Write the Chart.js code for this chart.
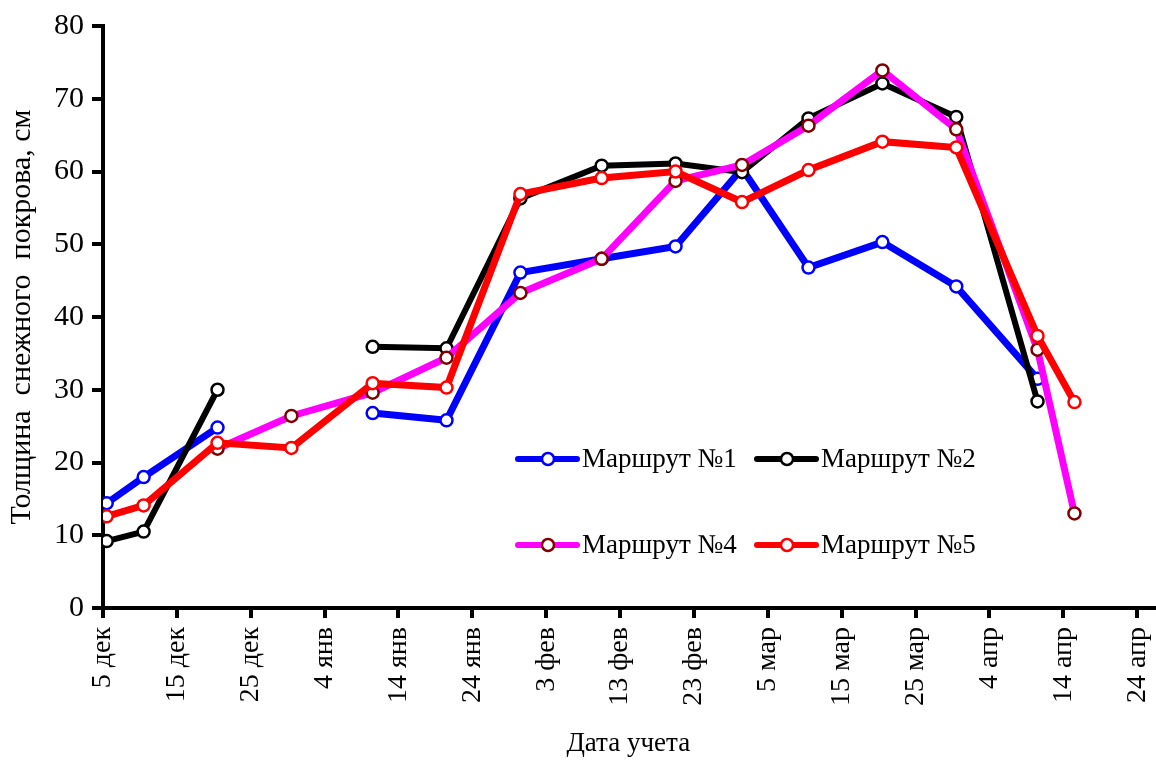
<!DOCTYPE html>
<html>
<head>
<meta charset="utf-8">
<script src="https://cdn.jsdelivr.net/npm/chart.js@4.4.1/dist/chart.umd.min.js"></script>
<style>
  html, body { margin: 0; padding: 0; background: #fff; overflow: hidden; }
  /* a few px wider than the window: Chart.js keeps ~8px spare on the right */
  #wrap { width: 1162px; height: 762px; position: relative; }
  canvas { display: block; }
</style>
</head>
<body>
<div id="wrap"><canvas id="snowChart"></canvas></div>
<script>
// days counted from 5 Dec
const days = [0.5, 5.5, 15.5, 25.5, 36.5, 46.5, 56.5, 67.5, 77.5, 86.5, 95.5, 105.5, 115.5, 126.5, 131.5];
const route1 = [14.4, 18.0, 24.8, null, 26.8, 25.8, 46.1, 48.0, 49.7, 60.4, 46.8, 50.3, 44.2, 31.5, null];
const route2 = [9.2, 10.5, 30.0, null, 35.9, 35.7, 56.3, 60.8, 61.1, 59.9, 67.3, 72.1, 67.5, 28.4, null];
const route4 = [null, null, 21.9, 26.4, 29.6, 34.4, 43.3, 48.0, 58.7, 60.9, 66.3, 73.9, 65.8, 35.5, 13.0];
const route5 = [12.6, 14.1, 22.7, 22.0, 30.9, 30.3, 56.9, 59.1, 60.0, 55.8, 60.2, 64.1, 63.3, 37.4, 28.3];
const xTickLabels = ['5 дек', '15 дек', '25 дек', '4 янв', '14 янв', '24 янв', '3 фев', '13 фев',
                     '23 фев', '5 мар', '15 мар', '25 мар', '4 апр', '14 апр', '24 апр'];
const seriesNames = ['Маршрут №1', 'Маршрут №2', 'Маршрут №4', 'Маршрут №5'];

const FONT = "'Liberation Serif', 'Times New Roman', serif";

function pts(values) {
    return days.map((d, i) => ({ x: d, y: values[i] }));
}

function makeSet(label, values, color, pointBorder, width, order) {
    return {
        label: label,
        data: pts(values),
        borderColor: color,
        backgroundColor: color,
        borderWidth: width,
        pointRadius: 6,
        pointBorderWidth: 2.5,
        pointBackgroundColor: '#fff',
        pointBorderColor: pointBorder,
        spanGaps: false,
        tension: 0,
        order: order
    };
}

// legend laid out 2x2 inside the plot, like the original
const legendBoxes = [
    { x: 518, y: 459, line: '#0000ff', dot: '#0000ff' },
    { x: 757, y: 459, line: '#000000', dot: '#000000' },
    { x: 518, y: 545, line: '#ff00ff', dot: '#800000' },
    { x: 757, y: 545, line: '#ff0000', dot: '#ff0000' }
];

const innerLegend = {
    id: 'innerLegend',
    afterDraw(chart) {
        const c = chart.ctx;
        c.save();
        legendBoxes.forEach((b, i) => {
            c.strokeStyle = b.line;
            c.lineWidth = 6;
            c.lineCap = 'round';
            c.beginPath();
            c.moveTo(b.x, b.y);
            c.lineTo(b.x + 59, b.y);
            c.stroke();
            c.beginPath();
            c.arc(b.x + 30, b.y, 6, 0, Math.PI * 2);
            c.fillStyle = '#fff';
            c.fill();
            c.lineWidth = 2.5;
            c.strokeStyle = b.dot;
            c.stroke();
            c.fillStyle = '#000';
            c.font = '27px ' + FONT;
            c.textAlign = 'left';
            c.textBaseline = 'middle';
            c.fillText(seriesNames[i], b.x + 64, b.y + 1);
        });
        c.restore();
    }
};

new Chart(document.getElementById('snowChart'), {
    type: 'line',
    data: {
        datasets: [
            makeSet(seriesNames[0], route1, '#0000ff', '#0000ff', 7, 4),
            makeSet(seriesNames[1], route2, '#000000', '#000000', 6, 3),
            makeSet(seriesNames[2], route4, '#ff00ff', '#800000', 7, 2),
            makeSet(seriesNames[3], route5, '#ff0000', '#ff0000', 7, 1)
        ]
    },
    options: {
        responsive: true,
        maintainAspectRatio: false,
        animation: false,
        layout: { padding: { left: 0, right: 3, top: 22, bottom: 0 } },
        scales: {
            x: {
                type: 'linear',
                bounds: 'data',
                min: 0,
                max: 142.2,
                afterFit(scale) {
                    scale.height = 154;
                    scale.paddingLeft = 0;
                    scale.paddingRight = 0;
                },
                border: { display: true, color: '#000', width: 4 },
                grid: { drawOnChartArea: false, color: '#000', lineWidth: 4, tickLength: 10 },
                ticks: {
                    stepSize: 10,
                    includeBounds: false,
                    autoSkip: false,
                    minRotation: 90,
                    maxRotation: 90,
                    padding: 9,
                    color: '#000',
                    font: { family: FONT, size: 28 },
                    callback: function(v) {
                        const i = Math.round(v / 10);
                        return (Math.abs(v - i * 10) < 0.01 && xTickLabels[i]) ? xTickLabels[i] : '';
                    }
                },
                title: {
                    display: true,
                    text: 'Дата учета',
                    color: '#000',
                    font: { family: FONT, size: 27 },
                    padding: { top: 0, bottom: 2 }
                }
            },
            y: {
                min: 0,
                max: 80,
                afterFit(scale) { scale.width = 103; },
                border: { display: true, color: '#000', width: 4 },
                grid: { drawOnChartArea: false, color: '#000', lineWidth: 4, tickLength: 11 },
                ticks: {
                    stepSize: 10,
                    padding: 8,
                    color: '#000',
                    font: { family: FONT, size: 30 }
                },
                title: {
                    display: true,
                    text: 'Толщина  снежного  покрова, см',
                    color: '#000',
                    font: { family: FONT, size: 30 },
                    padding: { top: 4, bottom: 0 }
                }
            }
        },
        plugins: {
            legend: { display: false },
            tooltip: { enabled: false }
        }
    },
    plugins: [innerLegend]
});
</script>
</body>
</html>
